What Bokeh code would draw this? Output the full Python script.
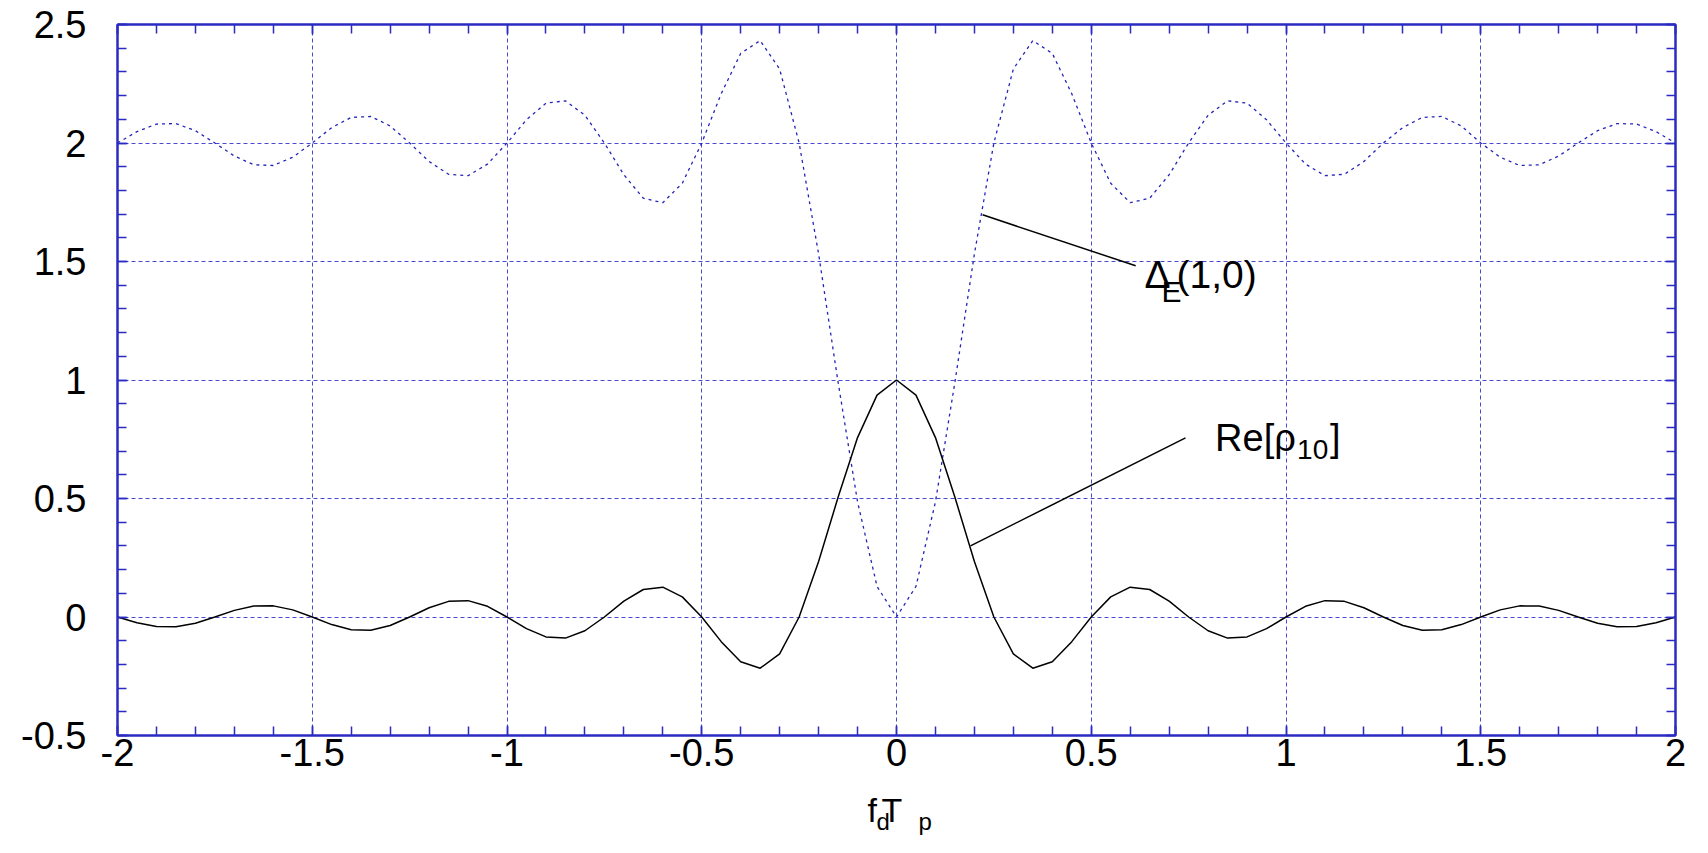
from bokeh.plotting import figure
from bokeh.models import (Range1d, SingleIntervalTicker, LinearAxis, CustomJSTickFormatter,
                          Label, ColumnDataSource)
from bokeh.layouts import column
from bokeh.embed import file_html
from bokeh.resources import INLINE

# ---- data ----
fdTp = [round(-2 + 0.05 * i, 2) for i in range(81)]

re_rho10 = [0.0, -0.024, -0.040, -0.041, -0.026, 0.0, 0.028, 0.046, 0.047, 0.030,
            0.0, -0.032, -0.054, -0.056, -0.036, 0.0, 0.039, 0.066, 0.069, 0.045,
            0.0, -0.049, -0.084, -0.089, -0.058, 0.0, 0.067, 0.116, 0.126, 0.085,
            0.0, -0.104, -0.189, -0.216, -0.156, 0.0, 0.234, 0.505, 0.757, 0.936,
            1.0,
            0.936, 0.757, 0.505, 0.234, 0.0, -0.156, -0.216, -0.189, -0.104, 0.0,
            0.085, 0.126, 0.116, 0.067, 0.0, -0.058, -0.089, -0.084, -0.049, 0.0,
            0.045, 0.069, 0.066, 0.039, 0.0, -0.036, -0.056, -0.054, -0.032, 0.0,
            0.030, 0.047, 0.046, 0.028, 0.0, -0.026, -0.041, -0.040, -0.024, 0.0]

delta_e10 = [2.0, 2.048, 2.080, 2.082, 2.052, 2.0, 1.945, 1.908, 1.905, 1.940,
             2.0, 2.065, 2.108, 2.112, 2.072, 2.0, 1.922, 1.868, 1.862, 1.911,
             2.0, 2.098, 2.168, 2.178, 2.117, 2.0, 1.866, 1.767, 1.748, 1.830,
             2.0, 2.208, 2.378, 2.432, 2.312, 2.0, 1.532, 0.991, 0.486, 0.129,
             0.0,
             0.129, 0.486, 0.991, 1.532, 2.0, 2.312, 2.432, 2.378, 2.208, 2.0,
             1.830, 1.748, 1.767, 1.866, 2.0, 2.117, 2.178, 2.168, 2.098, 2.0,
             1.911, 1.862, 1.868, 1.922, 2.0, 2.065, 2.108, 2.112, 2.072, 2.0,
             1.940, 1.905, 1.908, 1.945, 2.0, 2.052, 2.082, 2.080, 2.048, 2.0]

# annotation leader lines: (x0, y0) on curve -> (x1, y1) near text
leader_x0 = [0.221, 0.190]
leader_y0 = [1.697, 0.300]
leader_x1 = [0.614, 0.742]
leader_y1 = [1.482, 0.756]

FONT = "Liberation Sans"
BLUE = "#2b2bc4"
GRID = "#4a4ad0"

W = 1692
H_MAIN = 781
H_XLAB = 837 - H_MAIN

p = figure(width=W, height=H_MAIN, x_range=Range1d(-2, 2), y_range=Range1d(-0.5, 2.5),
           output_backend="svg", toolbar_location=None,
           min_border_left=117, min_border_right=17, min_border_top=24, min_border_bottom=46)

p.background_fill_color = "white"
p.border_fill_color = "white"
p.outline_line_color = BLUE
p.outline_line_width = 2

fmt = CustomJSTickFormatter(code="return String(Math.round(tick*10)/10);")
blank = CustomJSTickFormatter(code="return '';")

def style_axis(ax, show_labels, standoff):
    ax.axis_line_color = BLUE
    ax.axis_line_width = 2
    ax.major_tick_line_color = BLUE
    ax.minor_tick_line_color = BLUE
    ax.major_tick_line_width = 1.5
    ax.minor_tick_line_width = 1.5
    ax.major_tick_in = 10
    ax.major_tick_out = 0
    ax.minor_tick_in = 9
    ax.minor_tick_out = 0
    if show_labels:
        ax.formatter = fmt
        ax.major_label_text_font = FONT
        ax.major_label_text_font_size = "38px"
        ax.major_label_text_color = "black"
        ax.major_label_standoff = standoff
    else:
        ax.formatter = blank
        ax.major_label_text_font_size = "2px"
        ax.major_label_standoff = 0

p.xaxis[0].ticker = SingleIntervalTicker(interval=0.5, num_minor_ticks=5)
p.yaxis[0].ticker = SingleIntervalTicker(interval=0.5, num_minor_ticks=5)
style_axis(p.xaxis[0], True, 3)
style_axis(p.yaxis[0], True, 31)

top_ax = LinearAxis(ticker=SingleIntervalTicker(interval=0.5, num_minor_ticks=5))
right_ax = LinearAxis(ticker=SingleIntervalTicker(interval=0.5, num_minor_ticks=5))
style_axis(top_ax, False, 0)
style_axis(right_ax, False, 0)
p.add_layout(top_ax, "above")
p.add_layout(right_ax, "right")

for g in (p.xgrid[0], p.ygrid[0]):
    g.ticker = SingleIntervalTicker(interval=0.5)
    g.grid_line_color = GRID
    g.grid_line_dash = "4 3"
    g.grid_line_width = 1

src = ColumnDataSource(dict(x=fdTp, re=re_rho10, de=delta_e10))
p.line("x", "de", source=src, line_color="#2424b8", line_width=1.3, line_dash="3 4")
p.line("x", "re", source=src, line_color="black", line_width=1.5)

p.segment(x0=leader_x0, y0=leader_y0, x1=leader_x1, y1=leader_y1,
          line_color="black", line_width=1.5)

def lab(fig, x, y, text, size, xo=0, yo=0):
    fig.add_layout(Label(x=x, y=y, x_offset=xo, y_offset=yo, text=text,
                         text_font=FONT, text_font_size=size, text_color="black",
                         text_baseline="alphabetic", text_align="left"))

# Delta_E(1,0)
lab(p, 0.637, 1.444, "\u0394", "39px")
lab(p, 0.637, 1.444, "E", "30px", xo=17, yo=-17)
lab(p, 0.637, 1.444, "(1,0)", "39px", xo=32)

# Re[rho_10]
lab(p, 0.818, 0.756, "Re[\u03c1", "38px")
lab(p, 0.818, 0.756, "10", "28px", xo=82, yo=-12)
lab(p, 0.818, 0.756, "]", "38px", xo=115)

# ---- strip below the plot for the x-axis title f_d T_p ----
# labels are anchored to the strip's top edge (y = 1) and offset downwards in pixels
q = figure(width=W, height=H_XLAB, title=None,
           x_range=p.x_range, y_range=Range1d(0, 1),
           x_axis_location=None, y_axis_location=None,
           output_backend="svg", toolbar_location=None,
           min_border_left=117, min_border_right=17, min_border_top=0, min_border_bottom=0)
q.xgrid.visible = False
q.ygrid.visible = False
q.outline_line_color = None
q.background_fill_color = "white"
q.border_fill_color = "white"

lab(q, 0.0, 1, "f", "34px", xo=-29, yo=-28)
lab(q, 0.0, 1, "d", "24px", xo=-20, yo=-40)
lab(q, 0.0, 1, "T", "34px", xo=-15, yo=-28)
lab(q, 0.0, 1, "p", "24px", xo=22, yo=-40)

layout = column(p, q, spacing=0)
open("out.html", "w").write(file_html(layout, INLINE))
